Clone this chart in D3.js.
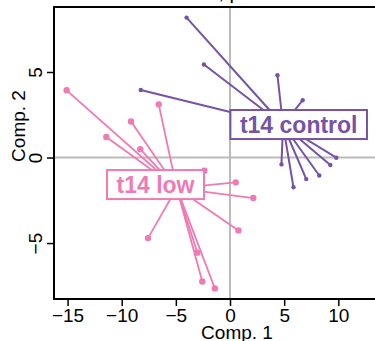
<!DOCTYPE html>
<html>
<head>
<meta charset="utf-8">
<script src="https://cdn.jsdelivr.net/npm/d3@7"></script>
<style>
  body { margin: 0; background: #fff; }
  svg { display: block; font-family: "Liberation Sans", Arial, sans-serif; }
</style>
</head>
<body>
<div id="chart"></div>
<script>
// group names, in drawing order
const groups = ['t14 low', 't14 control'];
const groupColors = ['#f07ab4', '#7553a5'];

// PCA scores (Comp. 1, Comp. 2)
const lowComp1 = [-15.08, -6.58, -9.14, -11.42, -8.29, -2.37, 0.53, 2.15, 0.78, -7.57, -3.02, -2.56, -1.40];
const lowComp2 = [3.93, 3.11, 2.11, 1.20, 0.49, -0.77, -1.45, -2.37, -4.26, -4.71, -5.56, -7.25, -7.65];
// last two control samples sit behind the label box
const controlComp1 = [-4.01, -2.41, -8.24, 4.38, 6.71, 4.75, 5.86, 7.04, 8.24, 9.26, 9.81, 10.5, 11.7];
const controlComp2 = [8.18, 5.44, 3.95, 4.81, 3.35, -0.40, -1.74, -1.26, -1.05, -0.44, -0.01, 2.4, 1.5];

// where the group labels sit (data units)
const labelComp1 = [-6.88, 6.34];
const labelComp2 = [-1.61, 1.90];

const xTicks = [-15, -10, -5, 0, 5, 10];
const yTicks = [-5, 0, 5];
const xTitle = 'Comp. 1';
const yTitle = 'Comp. 2';

const width = 375, height = 341;
const margin = {top: 7, left: 54, bottom: 42, right: -45};

const x = d3.scaleLinear().domain([-16.25, 17.54]).range([margin.left, width - margin.right]);
const y = d3.scaleLinear().domain([-8.27, 8.80]).range([height - margin.bottom, margin.top]);

const svg = d3.select('#chart').append('svg')
  .attr('width', width)
  .attr('height', height);

const series = [
  {name: groups[0], color: groupColors[0], c1: lowComp1, c2: lowComp2, r: 3.2, lw: 1.8},
  {name: groups[1], color: groupColors[1], c1: controlComp1, c2: controlComp2, r: 2.2, lw: 2}
].map((g, i) => {
  g.points = g.c1.map((v, j) => ({x: v, y: g.c2[j]}));
  g.centre = {x: d3.mean(g.c1), y: d3.mean(g.c2)};
  g.label = {x: labelComp1[i], y: labelComp2[i]};
  return g;
});

// zero lines
svg.append('line')
  .attr('x1', x(0)).attr('x2', x(0))
  .attr('y1', y.range()[0]).attr('y2', y.range()[1])
  .attr('stroke', '#bbbbbb').attr('stroke-width', 2);
svg.append('line')
  .attr('x1', x.range()[0]).attr('x2', x.range()[1])
  .attr('y1', y(0)).attr('y2', y(0))
  .attr('stroke', '#bbbbbb').attr('stroke-width', 2);

// stars: each sample joined to its group centre
series.forEach(g => {
  const gg = svg.append('g');
  gg.selectAll('line.star')
    .data(g.points)
    .enter().append('line')
    .attr('class', 'star')
    .attr('x1', d => x(d.x)).attr('y1', d => y(d.y))
    .attr('x2', x(g.centre.x)).attr('y2', y(g.centre.y))
    .attr('stroke', g.color)
    .attr('stroke-width', g.lw);
  gg.selectAll('circle')
    .data(g.points)
    .enter().append('circle')
    .attr('cx', d => x(d.x)).attr('cy', d => y(d.y))
    .attr('r', g.r)
    .attr('fill', g.color);
});

// boxed labels
series.forEach(g => {
  const lab = svg.append('g')
    .attr('transform', 'translate(' + x(g.label.x) + ',' + y(g.label.y) + ')');
  const rect = lab.append('rect');
  const txt = lab.append('text')
    .attr('text-anchor', 'middle')
    .attr('dy', '0.36em')
    .style('font-size', '23px')
    .style('font-weight', 'bold')
    .attr('fill', g.color)
    .text(g.name);
  const bb = txt.node().getBBox();
  rect.attr('x', -bb.width / 2 - 9.5)
    .attr('y', -15)
    .attr('width', bb.width + 19)
    .attr('height', 29)
    .attr('fill', '#fff')
    .attr('stroke', g.color)
    .attr('stroke-width', 2);
});

// plot frame
svg.append('rect')
  .attr('x', x.range()[0]).attr('y', y.range()[1])
  .attr('width', x.range()[1] - x.range()[0])
  .attr('height', y.range()[0] - y.range()[1])
  .attr('fill', 'none')
  .attr('stroke', '#000')
  .attr('stroke-width', 2);

// axes
const xAxis = svg.append('g')
  .attr('transform', 'translate(0,' + y.range()[0] + ')')
  .call(d3.axisBottom(x).tickValues(xTicks).tickSize(7).tickPadding(3).tickFormat(d3.format('')));
xAxis.select('.domain').remove();
xAxis.selectAll('line').attr('stroke-width', 1.5);
xAxis.selectAll('text').style('font-size', '19px').attr('fill', '#000');

const yAxis = svg.append('g')
  .attr('transform', 'translate(' + x.range()[0] + ',0)')
  .call(d3.axisLeft(y).tickValues(yTicks).tickSize(7).tickFormat(d3.format('')));
yAxis.select('.domain').remove();
yAxis.selectAll('line').attr('stroke-width', 1.5);
yAxis.selectAll('text')
  .attr('x', null).attr('dy', null)
  .attr('text-anchor', 'middle')
  .attr('transform', 'translate(-12,0) rotate(-90)')
  .style('font-size', '19px').attr('fill', '#000');

// axis titles
svg.append('text')
  .attr('x', 237).attr('y', 339)
  .attr('text-anchor', 'middle')
  .style('font-size', '19px')
  .text(xTitle);
svg.append('text')
  .attr('transform', 'translate(25,126) rotate(-90)')
  .attr('text-anchor', 'middle')
  .style('font-size', '19px')
  .text(yTitle);

// title, mostly cut off above the picture
svg.append('text')
  .attr('x', 144).attr('y', -1)
  .style('font-size', '20px')
  .text('t14 PCA, p < 0.001');
</script>
</body>
</html>
